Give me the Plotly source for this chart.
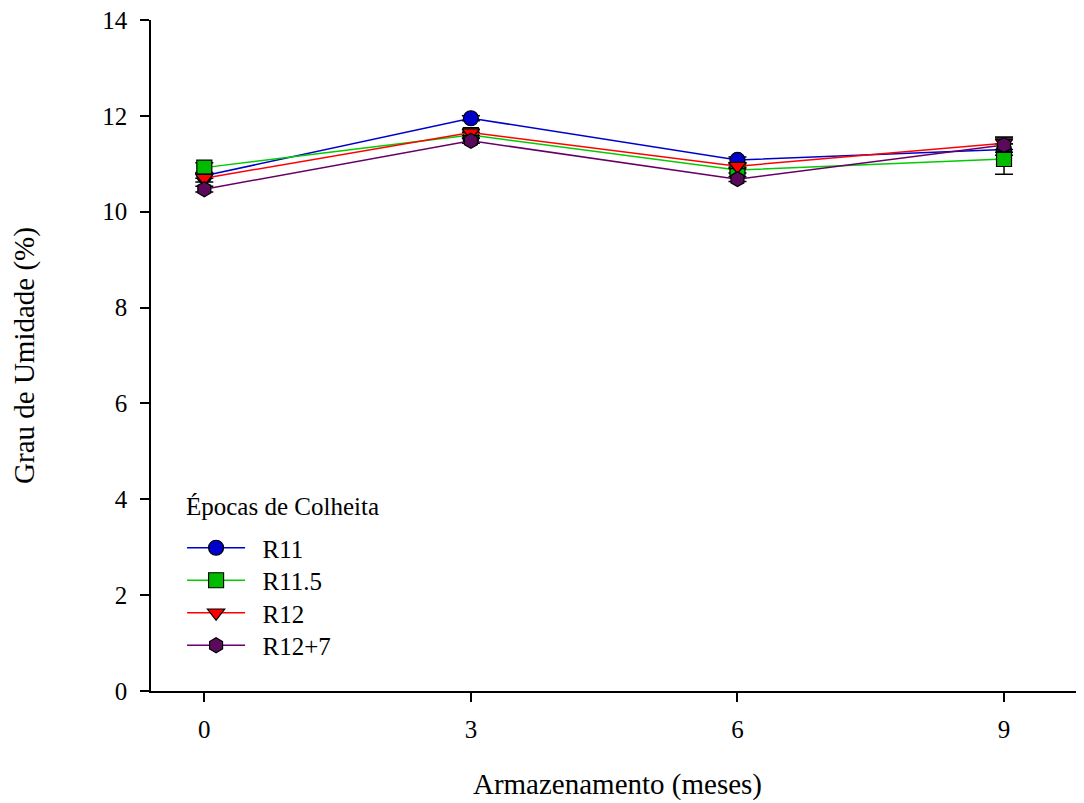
import plotly.graph_objects as go

months = [0, 3, 6, 9]
series_names = ["R11", "R11.5", "R12", "R12+7"]
r11 = [10.75, 11.95, 11.08, 11.30]
r11_5 = [10.92, 11.60, 10.87, 11.10]
r12 = [10.70, 11.65, 10.95, 11.43]
r12_7 = [10.47, 11.48, 10.68, 11.39]
err_r11 = [0.05, 0.05, 0.06, 0.12]
err_r11_5 = [0.10, 0.06, 0.06, 0.32]
err_r12 = [0.08, 0.06, 0.05, 0.13]
err_r12_7 = [0.06, 0.05, 0.05, 0.15]
x_ticks = [0, 3, 6, 9]
y_ticks = [0, 2, 4, 6, 8, 10, 12, 14]
legend_title = "Épocas de Colheita"

values = [r11, r11_5, r12, r12_7]
errors = [err_r11, err_r11_5, err_r12, err_r12_7]
line_colors = ["#0000CC", "#00CC00", "#FF0000", "#660066"]
fill_colors = ["#0000CC", "#00BB00", "#FF0000", "#5A0A5A"]
symbols = ["circle", "square", "triangle-down", "hexagon"]

FONT = "Liberation Serif, Times New Roman, serif"

# page pixel layout helpers (plot area spans y 20..691 on the page)
PLOT_TOP, PLOT_BOTTOM = 20, 691
def paper_y(py):
    return (PLOT_BOTTOM - py) / (PLOT_BOTTOM - PLOT_TOP)

legend_item_centers = [548, 580.5, 613, 645.5]
legend_ids = ["legend", "legend2", "legend3", "legend4"]

fig = go.Figure()
for name, v, e, lc, fc, s, lid in zip(series_names, values, errors, line_colors, fill_colors, symbols, legend_ids):
    fig.add_trace(go.Scatter(
        x=months, y=v, name="\u2002" + name, mode="lines+markers", legend=lid,
        line=dict(color=lc, width=1.5),
        marker=dict(symbol=s, size=15, color=fc, line=dict(color="black", width=1.2)),
        error_y=dict(type="data", array=e, visible=True, color="black", thickness=1.5, width=9),
    ))

fig.add_annotation(
    text=legend_title, xref="paper", yref="paper", x=0.0354, y=paper_y(506),
    xanchor="left", yanchor="middle", showarrow=False,
    font=dict(family=FONT, size=25, color="black"),
)

legend_layout = {}
for lid, cy in zip(legend_ids, legend_item_centers):
    legend_layout[lid] = dict(
        x=0.0333, y=paper_y(cy), xanchor="left", yanchor="middle",
        bgcolor="rgba(0,0,0,0)", font=dict(family=FONT, size=25),
        itemwidth=58,
    )

fig.update_layout(
    width=1076, height=795,
    margin=dict(l=143, r=0, t=12, b=112),
    paper_bgcolor="white", plot_bgcolor="white",
    font=dict(family=FONT, size=25, color="black"),
    showlegend=True,
    xaxis=dict(
        range=[-0.6, 9.9], tickmode="array", tickvals=x_ticks,
        showgrid=False, zeroline=False, showline=True, linecolor="black", linewidth=1.5,
        ticks="outside", ticklen=9, tickwidth=1.5, tickcolor="black",
        tickfont=dict(family=FONT, size=25), ticklabelstandoff=6,
        ticklabeloverflow="allow",
        title=dict(text="Armazenamento (meses)", font=dict(family=FONT, size=29), standoff=32),
    ),
    yaxis=dict(
        range=[0, 14], tickmode="array", tickvals=y_ticks,
        showgrid=False, zeroline=False, showline=True, linecolor="black", linewidth=1.5,
        ticks="outside", ticklen=9, tickwidth=1.5, tickcolor="black",
        tickfont=dict(family=FONT, size=25), ticklabelstandoff=8,
        ticklabeloverflow="allow",
        title=dict(text="Grau de Umidade (%)", font=dict(family=FONT, size=29), standoff=60),
    ),
    **legend_layout,
)

fig.write_html("out.html")
